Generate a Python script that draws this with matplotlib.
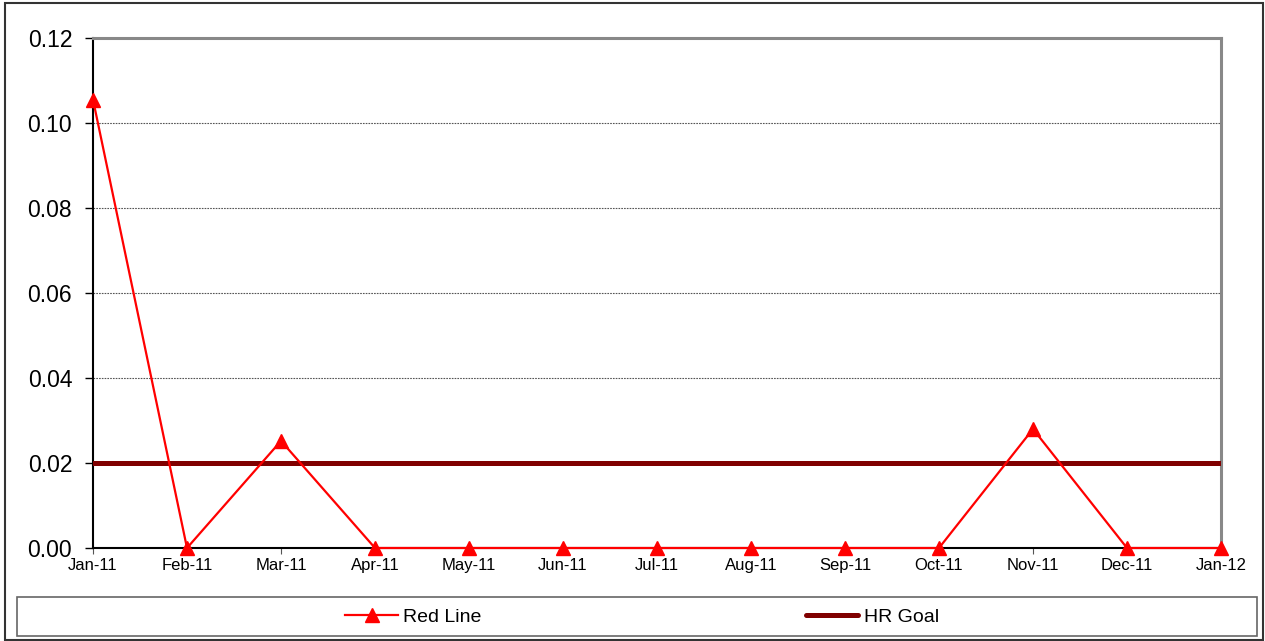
import matplotlib
matplotlib.use("Agg")
import matplotlib.pyplot as plt
from matplotlib.patches import Rectangle
from matplotlib.lines import Line2D

months = ["Jan-11", "Feb-11", "Mar-11", "Apr-11", "May-11", "Jun-11", "Jul-11",
          "Aug-11", "Sep-11", "Oct-11", "Nov-11", "Dec-11", "Jan-12"]
red_line = [0.1055, 0.0, 0.0252, 0.0, 0.0, 0.0, 0.0, 0.0, 0.0, 0.0, 0.028, 0.0, 0.0]
hr_goal = [0.02] * len(months)
y_ticks = [0.00, 0.02, 0.04, 0.06, 0.08, 0.10, 0.12]

plt.rcParams['font.family'] = ['Liberation Sans', 'DejaVu Sans']

W, H = 1265, 641
fig = plt.figure(figsize=(W / 100, H / 100), dpi=100)
ax = fig.add_axes([93 / W, 1 - 548 / H, (1221 - 93) / W, (548 - 38) / H])

x = list(range(len(months)))
ax.plot(x, hr_goal, color="#800000", lw=3.6, solid_capstyle="round", zorder=3,
        label="HR Goal")
ax.plot(x, red_line, color="#ff0000", lw=1.6, marker="^", markersize=10,
        markeredgecolor="#ff0000", markerfacecolor="#ff0000", zorder=4,
        clip_on=False, label="Red Line")

ax.set_xlim(0, len(months) - 1)
ax.set_ylim(0, 0.12)
ax.set_yticks(y_ticks)
ax.set_yticklabels([f"{v:.2f}" for v in y_ticks], fontsize=16.5)
ax.set_xticks(x)
ax.set_xticklabels(months, fontsize=12)
ax.tick_params(axis="y", direction="out", length=6, width=1, pad=9, color="black")
ax.tick_params(axis="x", direction="out", length=4, width=0.8, pad=3, color="#555555")

for v in y_ticks[1:-1]:
    ax.axhline(v, color="#555555", lw=0.8, ls=(0, (1.5, 1)), zorder=1)

ax.spines["left"].set_color("black")
ax.spines["left"].set_linewidth(1.5)
ax.spines["bottom"].set_color("black")
ax.spines["bottom"].set_linewidth(1.5)
ax.spines["top"].set_color("#888888")
ax.spines["top"].set_linewidth(2.2)
ax.spines["right"].set_color("#888888")
ax.spines["right"].set_linewidth(2.2)

# outer chart border
fig.patches.append(Rectangle((5 / W, 1 / H), (1263 - 5) / W, (639 - 2) / H,
                             transform=fig.transFigure, fill=False,
                             edgecolor="#333333", lw=1.5))
# legend border
fig.patches.append(Rectangle((17 / W, 1 - 636 / H), (1257 - 17) / W, (636 - 597) / H,
                             transform=fig.transFigure, fill=False,
                             edgecolor="#666666", lw=1.2))

handles = [
    Line2D([], [], color="#ff0000", lw=1.6, marker="^", markersize=10),
    Line2D([], [], color="#800000", lw=3.6, solid_capstyle="round"),
]
fig.legend(handles, ["Red Line", "HR Goal"], loc="center",
           bbox_to_anchor=(642 / W, 1 - 617 / H), ncol=2, frameon=False,
           fontsize=14, handlelength=2.7, handletextpad=0.26,
           columnspacing=16.7, borderpad=0)

fig.savefig("out.png", dpi=100)
